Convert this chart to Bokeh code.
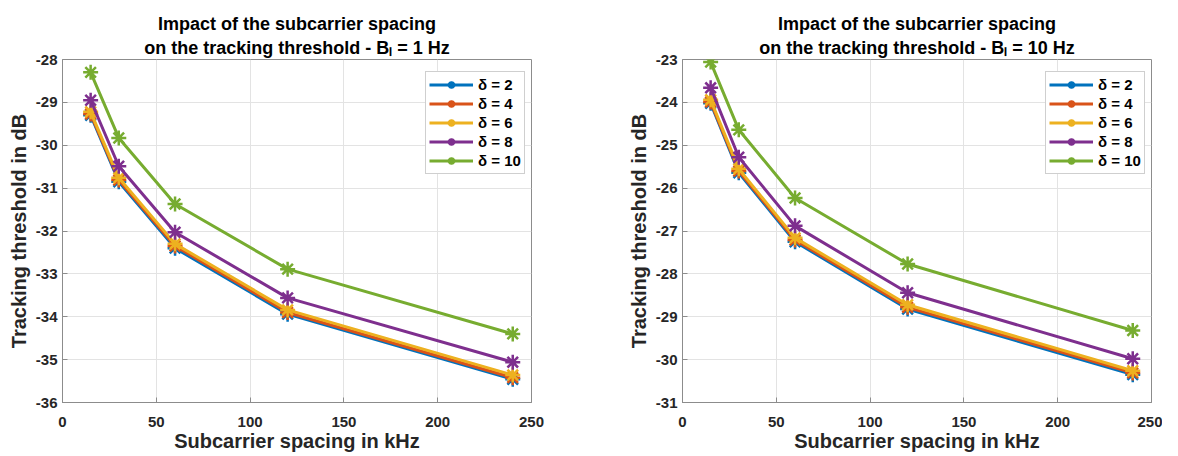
from bokeh.plotting import figure
from bokeh.layouts import row
from bokeh.models import (Title, Legend, LegendItem, Range1d, FixedTicker,
                          PrintfTickFormatter)
from bokeh.embed import file_html
from bokeh.resources import INLINE

# ---------------- data ----------------
subcarrier_khz = [15, 30, 60, 120, 240]
delta_labels = ["δ = 2", "δ = 4", "δ = 6", "δ = 8", "δ = 10"]
series_colors = ["#0072BD", "#D95319", "#EDB120", "#7E2F8E", "#77AC30"]

# B_l = 1 Hz
bl1_d2 = [-29.30, -30.85, -32.40, -33.94, -35.46]
bl1_d4 = [-29.27, -30.81, -32.35, -33.90, -35.42]
bl1_d6 = [-29.22, -30.76, -32.30, -33.84, -35.36]
bl1_d8 = [-28.95, -30.49, -32.03, -33.56, -35.06]
bl1_d10 = [-28.30, -29.83, -31.37, -32.89, -34.40]

# B_l = 10 Hz
bl10_d2 = [-24.02, -25.64, -27.25, -28.82, -30.35]
bl10_d4 = [-23.99, -25.60, -27.21, -28.78, -30.31]
bl10_d6 = [-23.94, -25.55, -27.16, -28.72, -30.26]
bl10_d8 = [-23.66, -25.28, -26.88, -28.44, -29.98]
bl10_d10 = [-23.06, -24.64, -26.23, -27.77, -29.32]

x_ticks = [0, 50, 100, 150, 200, 250]
y_ticks_left = [-36, -35, -34, -33, -32, -31, -30, -29, -28]
y_ticks_right = [-31, -30, -29, -28, -27, -26, -25, -24, -23]

title_line1 = "Impact of the subcarrier spacing"
title_line2_left = "on the tracking threshold - B\u2097 = 1 Hz"
title_line2_right = "on the tracking threshold - B\u2097 = 10 Hz"

FONT = "Liberation Sans"
TXT = "#262626"
AX = "#8c8c8c"
FIG_H = 456
B_TOP = 59
B_BOT = 54
FRAME_W = 469
FRAME_H = FIG_H - B_TOP - B_BOT


def make_fig(border_left, border_right, y_ticks, series, title2):
    p = figure(width=border_left + FRAME_W + border_right, height=FIG_H,
               output_backend="svg", toolbar_location=None,
               x_range=Range1d(0, 250),
               y_range=Range1d(y_ticks[0], y_ticks[-1]),
               min_border_left=border_left, min_border_right=border_right,
               min_border_top=B_TOP, min_border_bottom=B_BOT)
    p.background_fill_color = "white"
    p.border_fill_color = "white"
    p.outline_line_color = AX
    p.outline_line_width = 1

    p.xaxis.ticker = FixedTicker(ticks=x_ticks)
    p.yaxis.ticker = FixedTicker(ticks=y_ticks)
    p.xaxis.formatter = PrintfTickFormatter(format="%d")
    p.yaxis.formatter = PrintfTickFormatter(format="%d")
    for ax in (p.xaxis[0], p.yaxis[0]):
        ax.axis_line_color = AX
        ax.major_tick_line_color = AX
        ax.major_tick_in = 5
        ax.major_tick_out = 0
        ax.minor_tick_line_color = None
        ax.major_label_text_font = FONT
        ax.major_label_text_font_style = "bold"
        ax.major_label_text_font_size = "15px"
        ax.major_label_text_color = TXT
        ax.axis_label_text_font = FONT
        ax.axis_label_text_font_style = "bold"
        ax.axis_label_text_font_size = "20px"
        ax.axis_label_text_color = TXT
    p.xaxis.axis_label = "Subcarrier spacing in kHz"
    p.yaxis.axis_label = "Tracking threshold in dB"
    p.xaxis.major_label_standoff = 14
    p.xaxis.axis_label_standoff = 0
    p.yaxis.major_label_standoff = 5
    p.yaxis.axis_label_standoff = 3

    p.xgrid.grid_line_color = "#e3e3e3"
    p.ygrid.grid_line_color = "#e3e3e3"

    items = []
    for ys, col, lab in zip(series, series_colors, delta_labels):
        lr = p.line(subcarrier_khz, ys, line_color=col, line_width=3)
        sr = p.scatter(subcarrier_khz, ys, marker="asterisk", size=15,
                       line_color=col, line_width=2.5)
        items.append(LegendItem(label=lab, renderers=[lr, sr]))

    # location = bottom-left corner of the legend box, px from frame bottom-left
    leg = Legend(items=items, location=(FRAME_W - 106, FRAME_H - 115),
                 padding=3, spacing=0, glyph_width=44, glyph_height=19,
                 label_height=19, label_standoff=5,
                 border_line_color="#a0a0a0",
                 label_text_font=FONT, label_text_font_style="bold",
                 label_text_font_size="15px", label_text_color="#000000",
                 background_fill_color="white", background_fill_alpha=1.0)
    p.add_layout(leg)

    for txt, so in ((title2, 4), (title_line1, 0)):
        p.add_layout(Title(text=txt, align="center", text_font=FONT,
                           text_font_style="bold", text_font_size="18px",
                           text_color="#000000", text_line_height=0.91,
                           standoff=so), "above")
    return p


p1 = make_fig(62, 79, y_ticks_left,
              [bl1_d2, bl1_d4, bl1_d6, bl1_d8, bl1_d10], title_line2_left)
p2 = make_fig(72, 11, y_ticks_right,
              [bl10_d2, bl10_d4, bl10_d6, bl10_d8, bl10_d10],
              title_line2_right)

layout = row(p1, p2)
open("out.html", "w").write(file_html(layout, INLINE))
